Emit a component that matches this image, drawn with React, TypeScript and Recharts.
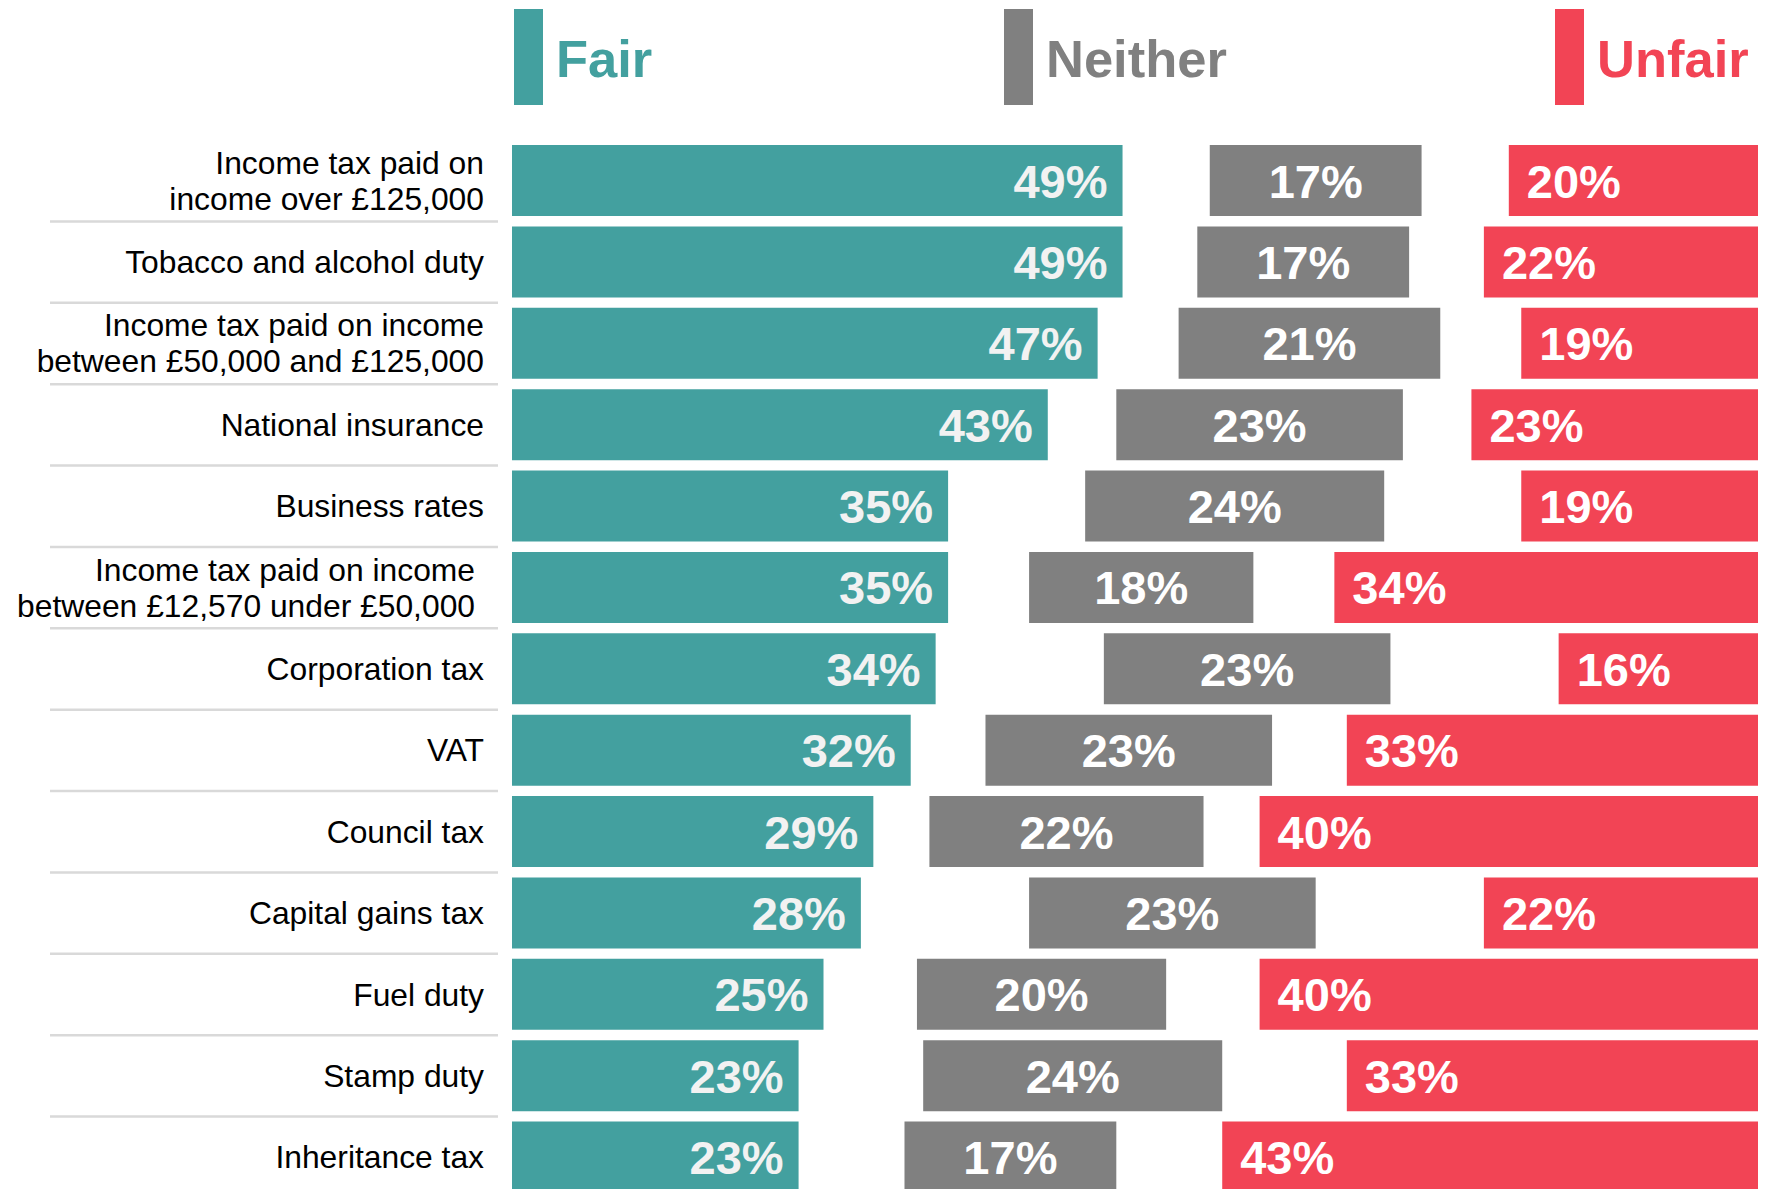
import React from 'react';
import { BarChart, Bar, XAxis, YAxis, LabelList } from 'recharts';

const categories = [
  'Income tax paid on\nincome over £125,000',
  'Tobacco and alcohol duty',
  'Income tax paid on income\nbetween £50,000 and £125,000',
  'National insurance',
  'Business rates',
  'Income tax paid on income\nbetween £12,570 under £50,000',
  'Corporation tax',
  'VAT',
  'Council tax',
  'Capital gains tax',
  'Fuel duty',
  'Stamp duty',
  'Inheritance tax',
];

const fair = [49, 49, 47, 43, 35, 35, 34, 32, 29, 28, 25, 23, 23];
const neither = [17, 17, 21, 23, 24, 18, 23, 23, 22, 23, 20, 24, 17];
const unfair = [20, 22, 19, 23, 19, 34, 16, 33, 40, 22, 40, 33, 43];

const TEAL = '#43a09f';
const GREY = '#808080';
const RED = '#f24455';
const FONT = '"Liberation Sans", Arial, sans-serif';

// the remaining share is split evenly either side of the "neither" bar
const rows = categories.map((name, i) => {
  const gap = (100 - fair[i] - neither[i] - unfair[i]) / 2;
  return { name, fair: fair[i], gapL: gap, neither: neither[i], gapR: gap, unfair: unfair[i] };
});

const valueText = (x: number, y: number, anchor: string, value: any, fill: string) => (
  <text
    x={x}
    y={y}
    textAnchor={anchor}
    fill={fill}
    fontFamily={FONT}
    fontWeight="bold"
    fontSize={47}
  >
    {value}%
  </text>
);

const renderFair = (p: any) => valueText(p.x + p.width - 15, p.y + p.height / 2 + 17, 'end', p.value, '#f2f2f2');
const renderNeither = (p: any) => valueText(p.x + p.width / 2, p.y + p.height / 2 + 17, 'middle', p.value, '#ffffff');
const renderUnfair = (p: any) => valueText(p.x + 18, p.y + p.height / 2 + 17, 'start', p.value, '#ffffff');

const CategoryTick = (props: any) => {
  const { y, payload, index } = props;
  const lines: string[] = String(payload.value).split('\n');
  const right = index === 5 ? 475 : 484;
  const first = lines.length === 1 ? y + 11 : y - 7;
  return (
    <g>
      <text textAnchor="end" fontFamily={FONT} fontSize={31.8} fill="#000">
        {lines.map((l, i) => (
          <tspan key={i} x={right} y={first + i * 36}>
            {l}
          </tspan>
        ))}
      </text>
      {index < categories.length - 1 && (
        <line x1={50} x2={498} y1={y + 40.7} y2={y + 40.7} stroke="#d9d9d9" strokeWidth={2.5} />
      )}
    </g>
  );
};

const legend = [
  { name: 'Fair', color: TEAL, x: 514 },
  { name: 'Neither', color: GREY, x: 1004 },
  { name: 'Unfair', color: RED, x: 1555 },
];

export default function App() {
  return (
    <div style={{ position: 'absolute', left: 0, top: 0, width: 1778, height: 1189, overflow: 'hidden', background: '#fff' }}>
      <svg width={1778} height={120} style={{ position: 'absolute', left: 0, top: 0 }}>
        {legend.map((l) => (
          <g key={l.name}>
            <rect x={l.x} y={9} width={29} height={96} fill={l.color} />
            <text x={l.x + 42} y={77} fill={l.color} fontFamily={FONT} fontWeight="bold" fontSize={52.5}>
              {l.name}
            </text>
          </g>
        ))}
      </svg>
      <BarChart
        layout="vertical"
        width={1778}
        height={1198}
        data={rows}
        margin={{ top: 140, right: 20, bottom: 0, left: 0 }}
        barSize={71}
      >
        <XAxis type="number" domain={[0, 100]} hide />
        <YAxis
          type="category"
          dataKey="name"
          width={512}
          axisLine={false}
          tickLine={false}
          interval={0}
          tick={<CategoryTick />}
        />
        <Bar dataKey="fair" stackId="a" fill={TEAL} isAnimationActive={false}>
          <LabelList dataKey="fair" content={renderFair} />
        </Bar>
        <Bar dataKey="gapL" stackId="a" fill="transparent" isAnimationActive={false} />
        <Bar dataKey="neither" stackId="a" fill={GREY} isAnimationActive={false}>
          <LabelList dataKey="neither" content={renderNeither} />
        </Bar>
        <Bar dataKey="gapR" stackId="a" fill="transparent" isAnimationActive={false} />
        <Bar dataKey="unfair" stackId="a" fill={RED} isAnimationActive={false}>
          <LabelList dataKey="unfair" content={renderUnfair} />
        </Bar>
      </BarChart>
    </div>
  );
}
